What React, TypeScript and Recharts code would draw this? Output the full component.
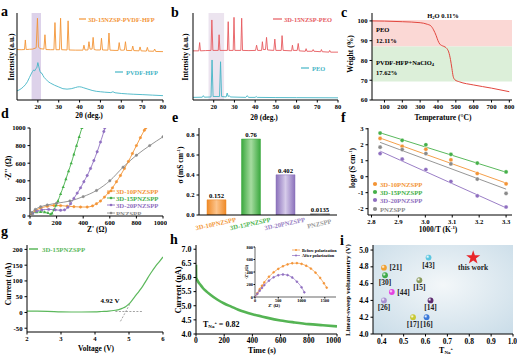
import React from 'react';
import {
  LineChart,
  Line,
  XAxis,
  YAxis,
  ReferenceArea,
  ReferenceLine,
  BarChart,
  Bar,
  Cell,
  LabelList,
  ScatterChart,
  Scatter,
  Symbols,
} from 'recharts';

const FONT = '"Liberation Serif", "Times New Roman", serif';

const ORANGE = '#f39436';
const CYAN = '#45b5c6';
const RED = '#e65a5f';
const GREEN = '#45b049';
const PURPLE = '#8f6fc0';
const GRAY = '#8a8a8a';

type Pt = [number, number];
const toRows = (pts: Pt[]) => pts.map(([x, y]) => ({ x, y }));

// ---------- a: XRD, PVDF-HFP ----------
const xrdTicks = [10, 20, 30, 40, 50, 60, 70, 80];
const xrdNzspPvdf: Pt[] = [
  [10, 58], [12, 57.8], [13.6, 58], [14, 69], [14.4, 58], [16, 58.3], [17.5, 58.5], [19.2, 60], [19.8, 94],
  [20.3, 61], [21, 59], [22.9, 58.5], [23.4, 75], [23.9, 58], [26, 57.8], [27.7, 57.8], [28.2, 89], [28.7, 57.8],
  [30.4, 57.8], [30.9, 94], [31.4, 57.8], [34, 57.5], [34.5, 91], [35, 57.5], [38, 57.3], [41.6, 57.3], [42.1, 63],
  [42.6, 57.5], [44, 57.5], [44.5, 67], [45, 58.5], [46, 58.5], [46.5, 72], [47, 58], [48, 57.5], [50, 57.5],
  [50.5, 71], [51, 57.5], [53.6, 57.3], [54.1, 77], [54.6, 57.3], [57, 57], [58.5, 57], [59, 66], [59.5, 57.5],
  [60.5, 57.2], [61.5, 57.5], [62, 67], [62.5, 57], [65, 56.8], [65.5, 62], [66, 56.8], [68.5, 56.5], [69, 61],
  [69.5, 56.5], [72, 56.2], [72.5, 60.5], [73, 56.2], [75.5, 56], [76, 58.6], [76.5, 55.8], [80, 55.6],
];
const xrdPvdf: Pt[] = [
  [10, 10.5], [11, 11.5], [12, 13], [13, 15], [14, 17.5], [15, 21], [16, 26], [17, 31], [17.5, 33], [18, 34.5],
  [18.5, 33.5], [19, 36], [19.5, 37], [20, 43], [20.5, 38], [21, 33], [21.5, 31], [22, 30.5], [22.5, 28], [23, 26],
  [24, 23.5], [25, 21], [26, 19.5], [28, 17], [30, 15], [32, 13], [34, 12.5], [36, 13], [38, 14.3], [39, 15],
  [40, 15.2], [41, 14.8], [42, 14], [44, 12.5], [46, 11], [48, 10], [50, 9.5], [52, 9], [55, 8.5], [56, 9.5],
  [57, 8.3], [60, 7.5], [63, 7], [66, 6.6], [70, 6.2], [75, 5.6], [80, 5],
];

// ---------- b: XRD, PEO ----------
const xrdNzspPeo: Pt[] = [
  [10, 56.5], [12.8, 56.5], [13.2, 66], [13.6, 56.5], [16, 56.8], [18.7, 57], [19.1, 92], [19.6, 57], [22.2, 57],
  [22.6, 75], [23, 57], [26.6, 57], [27, 90], [27.4, 57], [29.4, 57], [29.8, 95], [30.2, 57], [33.1, 57], [33.5, 94],
  [33.9, 57], [37, 56.8], [40.2, 57], [40.7, 63], [41.2, 57], [43.1, 57], [43.5, 67], [43.9, 58], [45, 58],
  [45.5, 72], [46, 57.5], [49, 57], [49.5, 70], [50, 57], [52.6, 57], [53, 74], [53.5, 57], [57.6, 56.5], [58, 63],
  [58.4, 57], [60.3, 57], [60.8, 65], [61.3, 56.5], [64.2, 56], [64.6, 59], [65, 56], [67.6, 56], [68, 58],
  [68.4, 56], [71.6, 55.5], [72, 58], [72.4, 55.5], [75.6, 55], [76, 57], [76.4, 55], [80, 55],
];
const xrdPeo: Pt[] = [
  [10, 3], [14.5, 3.2], [15, 5], [15.5, 3.2], [18.7, 3.5], [19.2, 46], [19.7, 4], [22.8, 4], [23.3, 44], [23.8, 4],
  [26, 3.5], [26.5, 8], [27, 4], [27.5, 5], [28, 3.5], [35.5, 3], [36.2, 5], [36.8, 3], [40, 3], [40.5, 4], [41, 3],
  [50, 2.8], [60, 2.7], [80, 2.5],
];

// ---------- c: TGA ----------
const tgaTemp = [30, 100, 200, 300, 340, 360, 375, 390, 400, 410, 425, 440, 450, 460, 470, 478, 485, 495, 520, 600, 700, 800];
const tgaWeight = [100, 99.9, 99.6, 99.1, 98.3, 97.5, 95.5, 92.5, 90, 88.3, 87.4, 86.8, 86, 84.3, 80.5, 76, 72, 70.2, 69.2, 67.6, 66, 64.2];
const tgaBands = { peoTop: 100.5, split: 87, pvdfBottom: 69.3 };

// ---------- d: Nyquist ----------
const nyqNames = ['3D-10PNZSPP', '3D-15PNZSPP', '3D-20PNZSPP', 'PNZSPP'];
const nyqColors = [ORANGE, GREEN, PURPLE, GRAY];
const nyq10: Pt[] = [
  [0, 0], [15, 30], [40, 60], [80, 90], [130, 110], [180, 120], [230, 118], [280, 112], [330, 106], [380, 102],
  [430, 102], [470, 115], [500, 140], [530, 170], [560, 215], [590, 265], [620, 320], [650, 390], [680, 460],
  [710, 540], [740, 620], [770, 710], [800, 800], [830, 890], [860, 975], [870, 1000],
];
const nyq15: Pt[] = [
  [0, 0], [20, 30], [50, 45], [80, 48], [110, 45], [135, 35], [155, 18], [165, 30], [180, 70], [195, 120],
  [210, 170], [230, 250], [250, 330], [270, 420], [290, 510], [310, 600], [330, 700], [350, 800], [370, 900], [390, 1000],
];
const nyq20: Pt[] = [
  [0, 0], [20, 30], [50, 55], [90, 70], [140, 75], [190, 70], [230, 65], [260, 70], [285, 100], [305, 140],
  [330, 200], [355, 260], [380, 320], [405, 390], [430, 460], [455, 540], [480, 630], [505, 730], [530, 840],
  [555, 960], [562, 1000],
];
const nyqP: Pt[] = [
  [0, 0], [15, 40], [40, 75], [80, 105], [130, 125], [200, 145], [300, 170], [400, 220], [500, 290], [600, 400],
  [700, 555], [800, 690], [900, 800], [1000, 900],
];
const nyqTicks = [0, 200, 400, 600, 800, 1000];

// ---------- e: conductivity bars ----------
const eCats = ['3D-10PNZSPP', '3D-15PNZSPP', '3D-20PNZSPP', 'PNZSPP'];
const eSigma = [0.152, 0.76, 0.402, 0.0135];
const eColors = ['#f39a3d', '#4cb44f', '#9a82c4', '#9a9a9a'];
const eDark = ['#ef8a27', '#3aa83e', '#8b71bb', '#8f8f8f'];
const eLight = ['#fcc48c', '#a6dca0', '#d6cbea', '#d0d0d0'];

// ---------- f: Arrhenius ----------
const invT = [2.832, 2.914, 3.002, 3.095, 3.193, 3.3];
const logS10 = [2.4, 1.9, 1.72, 1.05, 0.2, -0.45];
const logS15 = [2.73, 2.28, 2.0, 1.4, 0.85, 0.3];
const logS20 = [1.45, 1.1, 0.45, -0.3, -1.2, -1.9];
const logSP = [1.85, 1.7, 1.45, 0.8, -0.15, -1.05];
const fit10: Pt[] = [[2.832, 2.42], [3.3, -0.4]];
const fit15: Pt[] = [[2.832, 2.75], [3.3, 0.28]];
const fit20: Pt[] = [[2.832, 1.6], [3.3, -1.95]];
const fitP: Pt[] = [[2.832, 2.15], [3.3, -0.78]];

// ---------- g: LSV ----------
const lsvV = [2, 2.3, 2.6, 3, 3.3, 3.6, 4, 4.2, 4.4, 4.6, 4.7, 4.8, 4.9, 5.0, 5.1, 5.2, 5.3, 5.4, 5.5, 5.6, 5.7, 5.8, 5.9, 6.0];
const lsvI = [4, 4, 3.5, 2, 1.5, 1.5, 2, 3, 4, 7, 9, 13, 18, 27, 40, 54, 68, 83, 100, 118, 134, 149, 162, 176];
const lsvBase = [{ x: 4.6, y: 3 }, { x: 5.4, y: 3 }];
const lsvTangent = [{ x: 4.75, y: -28 }, { x: 5.02, y: 26 }];

// ---------- h: chronoamperometry + inset EIS ----------
const ctTime = [0, 1, 5, 15, 30, 50, 75, 100, 150, 200, 250, 300, 400, 500, 600, 700, 800, 900, 1000];
const ctCurrent = [6.45, 6.0, 5.95, 5.85, 5.75, 5.62, 5.5, 5.4, 5.22, 5.08, 4.97, 4.86, 4.7, 4.58, 4.48, 4.41, 4.35, 4.31, 4.27];
const eisBefore: Pt[] = [
  [0, 0], [50, 60], [100, 125], [150, 180], [200, 235], [300, 325], [400, 395], [500, 450], [600, 492], [700, 522],
  [800, 540], [900, 542], [1000, 530], [1100, 500], [1200, 455], [1300, 390], [1400, 305], [1480, 220], [1540, 150],
];
const eisAfter: Pt[] = [
  [0, 0], [50, 50], [100, 100], [150, 145], [200, 190], [300, 262], [400, 315], [500, 348], [600, 360], [700, 350],
  [800, 312], [900, 245], [1000, 155], [1060, 75],
];

// ---------- i: comparison ----------
const refNames = ['[21]', '[30]', '[44]', '[26]', '[43]', '[15]', '[14]', '[17]', '[16]'];
const refTNa = [0.41, 0.415, 0.446, 0.41, 0.614, 0.572, 0.623, 0.543, 0.605];
const refLSV = [4.79, 4.7, 4.5, 4.4, 4.91, 4.64, 4.4, 4.2, 4.2];
const refColors = ['#f0a030', '#3faa4a', '#e443e0', '#a890d2', '#5cc6e0', '#8a9a5b', '#5c2a6e', '#c8c833', '#3a78d8'];
const refLabelSide = ['right', 'below', 'right', 'below', 'below', 'below', 'below', 'below', 'below'];
const thisWork = [{ x: 0.818, y: 4.91, name: 'this work' }];

// ---------- shared helpers ----------
type Rect = { x0: number; y0: number; x1: number; y1: number };
type Mg = { t: number; r: number; b: number; l: number };

function Panel({ r, m, children }: { r: Rect; m: Mg; children: (w: number, h: number, margin: any) => React.ReactNode }) {
  const w = r.x1 - r.x0 + m.l + m.r;
  const h = r.y1 - r.y0 + m.t + m.b;
  return (
    <div style={{ position: 'absolute', left: r.x0 - m.l, top: r.y0 - m.t, width: w, height: h }}>
      {children(w, h, { top: m.t, right: m.r, bottom: 0, left: 0 })}
    </div>
  );
}

const AX = { stroke: '#000', strokeWidth: 1 };
const tk = (s = 6.7) => ({ fontSize: s, fontFamily: FONT, fontWeight: 700, fill: '#000' });
const f1 = (v: number) => v.toFixed(1);

const frame = () => [
  <XAxis key="ft" xAxisId="top" orientation="top" height={0} type="number" domain={[0, 1]} tick={false} tickLine={false} axisLine={AX} />,
  <YAxis key="fr" yAxisId="right" orientation="right" width={0} type="number" domain={[0, 1]} tick={false} tickLine={false} axisLine={AX} />,
];

function Tx({ x, y, s = 7.5, c = '#000', a = 'middle', r = 0, children }: any) {
  return (
    <text
      x={x}
      y={y}
      fontSize={s}
      fill={c}
      textAnchor={a}
      dominantBaseline="central"
      fontWeight={700}
      fontFamily={FONT}
      transform={r ? `rotate(${r} ${x} ${y})` : undefined}
    >
      {children}
    </text>
  );
}

// ---------- panels ----------
function PanelA() {
  return (
    <Panel r={{ x0: 17, y0: 13, x1: 163, y1: 100 }} m={{ t: 4, r: 4, b: 14, l: 2 }}>
      {(w, h, margin) => (
        <LineChart width={w} height={h} margin={margin}>
          <ReferenceArea x1={17} x2={21.5} y1={0} y2={100} fill="#ddd2ea" fillOpacity={1} stroke="none" />
          <XAxis type="number" dataKey="x" domain={[10, 80]} ticks={xrdTicks} allowDataOverflow height={14} tick={tk(6.5)} tickSize={2.5} tickLine={AX} axisLine={AX} />
          <YAxis type="number" domain={[0, 100]} allowDataOverflow width={2} tick={false} tickLine={false} axisLine={AX} />
          {frame()}
          <Line data={toRows(xrdNzspPvdf)} dataKey="y" type="linear" stroke={ORANGE} strokeWidth={0.9} dot={false} isAnimationActive={false} />
          <Line data={toRows(xrdPvdf)} dataKey="y" type="linear" stroke={CYAN} strokeWidth={0.9} dot={false} isAnimationActive={false} />
        </LineChart>
      )}
    </Panel>
  );
}

function PanelB() {
  return (
    <Panel r={{ x0: 193, y0: 13, x1: 338, y1: 100 }} m={{ t: 4, r: 4, b: 14, l: 2 }}>
      {(w, h, margin) => (
        <LineChart width={w} height={h} margin={margin}>
          <ReferenceArea x1={17.5} x2={25} y1={0} y2={100} fill="#ece4ef" fillOpacity={1} stroke="none" />
          <XAxis type="number" dataKey="x" domain={[10, 80]} ticks={xrdTicks} allowDataOverflow height={14} tick={tk(6.5)} tickSize={2.5} tickLine={AX} axisLine={AX} />
          <YAxis type="number" domain={[0, 100]} allowDataOverflow width={2} tick={false} tickLine={false} axisLine={AX} />
          {frame()}
          <Line data={toRows(xrdNzspPeo)} dataKey="y" type="linear" stroke={RED} strokeWidth={0.9} dot={false} isAnimationActive={false} />
          <Line data={toRows(xrdPeo)} dataKey="y" type="linear" stroke={CYAN} strokeWidth={0.9} dot={false} isAnimationActive={false} />
        </LineChart>
      )}
    </Panel>
  );
}

function PanelC() {
  const rows = tgaTemp.map((x, i) => ({ x, y: tgaWeight[i] }));
  return (
    <Panel r={{ x0: 372, y0: 13, x1: 512, y1: 100 }} m={{ t: 4, r: 4, b: 14, l: 22 }}>
      {(w, h, margin) => (
        <LineChart width={w} height={h} margin={margin}>
          <ReferenceArea y1={tgaBands.split} y2={tgaBands.peoTop} fill="#fbd8d5" fillOpacity={1} stroke="none" />
          <ReferenceArea y1={tgaBands.pvdfBottom} y2={tgaBands.split} fill="#dcefd9" fillOpacity={1} stroke="none" />
          <XAxis type="number" dataKey="x" domain={[30, 815]} ticks={[100, 200, 300, 400, 500, 600, 700, 800]} allowDataOverflow height={14} tick={tk()} tickSize={2.5} tickLine={AX} axisLine={AX} />
          <YAxis type="number" domain={[60, 104]} ticks={[60, 70, 80, 90, 100]} allowDataOverflow width={22} tick={tk()} tickSize={2.5} tickLine={AX} axisLine={AX} />
          {frame()}
          <Line data={rows} dataKey="y" type="monotone" stroke="#e2473f" strokeWidth={1} dot={false} isAnimationActive={false} />
        </LineChart>
      )}
    </Panel>
  );
}

const triDot = (color: string) => (p: any) => (
  <path
    key={`t${p.index}`}
    d={`M${p.cx},${p.cy - 1.8}L${p.cx + 1.6},${p.cy + 1.1}L${p.cx - 1.6},${p.cy + 1.1}Z`}
    fill={color}
  />
);

function PanelD() {
  const series = [nyq10, nyq15, nyq20, nyqP];
  return (
    <Panel r={{ x0: 30, y0: 128, x1: 163, y1: 216 }} m={{ t: 4, r: 4, b: 14, l: 24 }}>
      {(w, h, margin) => (
        <LineChart width={w} height={h} margin={margin}>
          <XAxis type="number" dataKey="x" domain={[0, 1000]} ticks={nyqTicks} allowDataOverflow height={14} tick={tk()} tickSize={2.5} tickLine={AX} axisLine={AX} />
          <YAxis type="number" domain={[0, 1000]} ticks={nyqTicks} allowDataOverflow width={24} tick={tk()} tickSize={2.5} tickLine={AX} axisLine={AX} />
          {frame()}
          {series.map((s, i) => (
            <Line
              key={nyqNames[i]}
              data={toRows(s)}
              dataKey="y"
              type="monotone"
              stroke={nyqColors[i]}
              strokeWidth={0.9}
              dot={i === 1 ? triDot(nyqColors[i]) : { r: 1.2, fill: nyqColors[i], stroke: nyqColors[i], strokeWidth: 0.5 }}
              isAnimationActive={false}
            />
          ))}
        </LineChart>
      )}
    </Panel>
  );
}

const eTick = (p: any) => {
  const i = eCats.indexOf(p.payload.value);
  const y = p.y + 7;
  return (
    <text x={p.x} y={y} textAnchor="middle" fill={eColors[i]} fontSize={6.5} fontWeight={700} fontFamily={FONT} transform={`rotate(-12 ${p.x} ${y})`}>
      {p.payload.value}
    </text>
  );
};

function PanelE() {
  const rows = eCats.map((name, i) => ({ name, v: eSigma[i] }));
  return (
    <Panel r={{ x0: 199, y0: 128, x1: 337, y1: 215 }} m={{ t: 4, r: 4, b: 22, l: 22 }}>
      {(w, h, margin) => (
        <BarChart width={w} height={h} margin={margin} data={rows}>
          <defs>
            {eCats.map((c, i) => (
              <linearGradient key={c} id={`eg${i}`} x1="0" y1="0" x2="1" y2="0">
                <stop offset="0%" stopColor={eDark[i]} />
                <stop offset="50%" stopColor={eLight[i]} />
                <stop offset="100%" stopColor={eDark[i]} />
              </linearGradient>
            ))}
          </defs>
          <XAxis dataKey="name" height={22} interval={0} tick={eTick} tickSize={2} tickMargin={2} tickLine={false} axisLine={AX} />
          <YAxis type="number" domain={[0, 0.87]} ticks={[0, 0.2, 0.4, 0.6, 0.8]} tickFormatter={f1} allowDataOverflow width={22} tick={tk()} tickSize={2.5} tickLine={AX} axisLine={AX} />
          {frame()}
          <Bar dataKey="v" barSize={19} isAnimationActive={false}>
            {rows.map((r, i) => (
              <Cell key={r.name} fill={`url(#eg${i})`} stroke={eDark[i]} strokeWidth={0.5} />
            ))}
            <LabelList dataKey="v" position="top" offset={2} fill="#000" fontSize={6.7} fontWeight={700} fontFamily={FONT} />
          </Bar>
        </BarChart>
      )}
    </Panel>
  );
}

function PanelF() {
  const pts = [logS10, logS15, logS20, logSP];
  const fits = [fit10, fit15, fit20, fitP];
  return (
    <Panel r={{ x0: 368, y0: 128, x1: 512, y1: 215 }} m={{ t: 4, r: 4, b: 14, l: 20 }}>
      {(w, h, margin) => (
        <LineChart width={w} height={h} margin={margin}>
          <XAxis type="number" dataKey="x" domain={[2.787, 3.322]} ticks={[2.8, 2.9, 3.0, 3.1, 3.2, 3.3]} tickFormatter={f1} allowDataOverflow height={14} tick={tk()} tickSize={2.5} tickLine={AX} axisLine={AX} />
          <YAxis type="number" domain={[-2.4, 3.05]} ticks={[-2, -1, 0, 1, 2, 3]} allowDataOverflow width={20} tick={tk()} tickSize={2.5} tickLine={AX} axisLine={AX} />
          {frame()}
          {fits.map((s, i) => (
            <Line key={`fit${i}`} data={toRows(s)} dataKey="y" type="linear" stroke={nyqColors[i]} strokeWidth={0.9} dot={false} isAnimationActive={false} />
          ))}
          {pts.map((s, i) => (
            <Line
              key={`pt${i}`}
              data={invT.map((x, j) => ({ x, y: s[j] }))}
              dataKey="y"
              stroke="none"
              dot={{ r: 2.1, fill: nyqColors[i], stroke: '#fff', strokeWidth: 0.4 }}
              isAnimationActive={false}
            />
          ))}
        </LineChart>
      )}
    </Panel>
  );
}

function PanelG() {
  const rows = lsvV.map((x, i) => ({ x, y: lsvI[i] }));
  return (
    <Panel r={{ x0: 27, y0: 245, x1: 163, y1: 332 }} m={{ t: 4, r: 4, b: 14, l: 22 }}>
      {(w, h, margin) => (
        <LineChart width={w} height={h} margin={margin}>
          <XAxis type="number" dataKey="x" domain={[2, 6]} ticks={[2, 3, 4, 5, 6]} allowDataOverflow height={14} tick={tk()} tickSize={2.5} tickLine={AX} axisLine={AX} />
          <YAxis type="number" domain={[-62, 214]} ticks={[-50, 0, 50, 100, 150, 200]} allowDataOverflow width={22} tick={tk()} tickSize={2.5} tickLine={AX} axisLine={AX} />
          {frame()}
          <ReferenceLine segment={lsvBase} stroke="#8c8c8c" strokeWidth={0.8} strokeDasharray="2 1.5" />
          <ReferenceLine segment={lsvTangent} stroke="#8c8c8c" strokeWidth={0.8} strokeDasharray="2 1.5" />
          <Line data={rows} dataKey="y" type="monotone" stroke="#5cb85c" strokeWidth={1.2} dot={false} isAnimationActive={false} />
        </LineChart>
      )}
    </Panel>
  );
}

function PanelH() {
  const rows = ctTime.map((x, i) => ({ x, y: ctCurrent[i] }));
  return (
    <Panel r={{ x0: 196, y0: 245, x1: 337, y1: 334 }} m={{ t: 4, r: 4, b: 14, l: 22 }}>
      {(w, h, margin) => (
        <LineChart width={w} height={h} margin={margin}>
          <XAxis type="number" dataKey="x" domain={[0, 1000]} ticks={[0, 200, 400, 600, 800, 1000]} allowDataOverflow height={14} tick={tk(7.6)} tickSize={2.5} tickMargin={1} tickLine={AX} axisLine={AX} />
          <YAxis type="number" domain={[4, 7.15]} ticks={[4, 4.5, 5, 5.5, 6, 6.5, 7]} tickFormatter={f1} allowDataOverflow width={22} tick={tk(8)} tickSize={2.5} tickLine={AX} axisLine={AX} />
          {frame()}
          <Line data={rows} dataKey="y" type="monotone" stroke="#55b454" strokeWidth={2.6} dot={false} isAnimationActive={false} />
        </LineChart>
      )}
    </Panel>
  );
}

function PanelHInset() {
  const thin = { stroke: '#000', strokeWidth: 0.6 };
  return (
    <Panel r={{ x0: 255, y0: 247, x1: 336, y1: 297 }} m={{ t: 2, r: 2, b: 8, l: 12 }}>
      {(w, h, margin) => (
        <LineChart width={w} height={h} margin={margin}>
          <XAxis type="number" dataKey="x" domain={[0, 1740]} ticks={[0, 500, 1000, 1500]} allowDataOverflow height={8} tick={tk(4.3)} tickSize={1.5} tickMargin={0.5} tickLine={AX} axisLine={thin} />
          <YAxis type="number" domain={[0, 800]} ticks={[0, 200, 400, 600, 800]} allowDataOverflow width={12} tick={tk(4.3)} tickSize={1.5} tickMargin={0.5} tickLine={AX} axisLine={thin} />
          <XAxis xAxisId="top" orientation="top" height={0} type="number" domain={[0, 1]} tick={false} tickLine={false} axisLine={thin} />
          <YAxis yAxisId="right" orientation="right" width={0} type="number" domain={[0, 1]} tick={false} tickLine={false} axisLine={thin} />
          <Line data={toRows(eisBefore)} dataKey="y" type="monotone" stroke={ORANGE} strokeWidth={0.7} dot={{ r: 0.9, fill: ORANGE, stroke: ORANGE }} isAnimationActive={false} />
          <Line data={toRows(eisAfter)} dataKey="y" type="monotone" stroke={PURPLE} strokeWidth={0.7} dot={{ r: 0.9, fill: PURPLE, stroke: PURPLE }} isAnimationActive={false} />
        </LineChart>
      )}
    </Panel>
  );
}

const refShape = (p: any) => {
  const i = refNames.indexOf(p.payload.name);
  const right = refLabelSide[i] === 'right';
  return (
    <g>
      <circle cx={p.cx} cy={p.cy} r={2.9} fill={`url(#sph${i})`} />
      <text
        x={right ? p.cx + 5.5 : p.cx}
        y={right ? p.cy + 2.6 : p.cy + 10}
        textAnchor={right ? 'start' : 'middle'}
        fontSize={7.5}
        fontWeight={700}
        fontFamily={FONT}
        fill="#222"
      >
        {p.payload.name}
      </text>
    </g>
  );
};

const starShape = (p: any) => (
  <g>
    <Symbols type="star" size={62} cx={p.cx} cy={p.cy} fill="#e8262b" />
    <text x={p.cx} y={p.cy + 12.5} textAnchor="middle" fontSize={7.5} fontWeight={700} fontFamily={FONT} fill="#222">
      {p.payload.name}
    </text>
  </g>
);

function PanelI() {
  const rows = refNames.map((name, i) => ({ name, x: refTNa[i], y: refLSV[i] }));
  return (
    <Panel r={{ x0: 373, y0: 245, x1: 513, y1: 334 }} m={{ t: 4, r: 4, b: 14, l: 20 }}>
      {(w, h, margin) => (
        <ScatterChart width={w} height={h} margin={margin}>
          <defs>
            <radialGradient id="iBg" cx="50%" cy="45%" r="75%">
              <stop offset="0%" stopColor="#f3f7f9" />
              <stop offset="100%" stopColor="#c9dce8" />
            </radialGradient>
            {refColors.map((c, i) => (
              <radialGradient key={c} id={`sph${i}`} cx="35%" cy="35%" r="70%">
                <stop offset="0%" stopColor="#ffffff" />
                <stop offset="45%" stopColor={c} />
                <stop offset="100%" stopColor={c} />
              </radialGradient>
            ))}
          </defs>
          <ReferenceArea x1={0.36} x2={1.0} y1={4.0} y2={5.06} fill="url(#iBg)" fillOpacity={1} stroke="none" />
          <XAxis type="number" dataKey="x" domain={[0.36, 1.0]} ticks={[0.4, 0.5, 0.6, 0.7, 0.8, 0.9, 1.0]} tickFormatter={f1} allowDataOverflow height={14} tick={tk(7.5)} tickSize={2.5} tickLine={AX} axisLine={AX} />
          <YAxis type="number" dataKey="y" domain={[4.0, 5.06]} ticks={[4.0, 4.2, 4.4, 4.6, 4.8, 5.0]} tickFormatter={f1} allowDataOverflow width={20} tick={tk(7.5)} tickSize={2.5} tickLine={AX} axisLine={AX} />
          {frame()}
          <Scatter data={rows} shape={refShape} isAnimationActive={false} />
          <Scatter data={thisWork} shape={starShape} isAnimationActive={false} />
        </ScatterChart>
      )}
    </Panel>
  );
}

function Overlay() {
  const letter = (t: string, x: number, y: number) => (
    <text x={x} y={y} fontSize={14} fontWeight={700} fontFamily={FONT} fill="#000">{t}</text>
  );
  const dLegY = [191, 198, 205, 213];
  const fLegY = [184, 192, 200, 209];
  return (
    <svg width={522} height={358} style={{ position: 'absolute', left: 0, top: 0, pointerEvents: 'none' }}>
      {letter('a', 1, 16)}
      {letter('b', 171, 17)}
      {letter('c', 341, 17)}
      {letter('d', 1, 118)}
      {letter('e', 172, 122)}
      {letter('f', 341, 122)}
      {letter('g', 1, 236)}
      {letter('h', 170, 244)}
      {letter('i', 340, 245)}

      {/* a */}
      <Tx x={11} y={57} r={-90}>Intensity (a.u.)</Tx>
      <Tx x={89} y={115}>2θ (deg.)</Tx>
      <line x1={79} y1={19} x2={86} y2={19} stroke={ORANGE} strokeWidth={1.2} />
      <Tx x={88} y={19} s={6.4} c={ORANGE} a="start">3D-15NZSP-PVDF-HFP</Tx>
      <line x1={115} y1={72} x2={123} y2={72} stroke={CYAN} strokeWidth={1.2} />
      <Tx x={126} y={72} s={6.4} c={CYAN} a="start">PVDF-HFP</Tx>

      {/* b */}
      <Tx x={185.5} y={57} r={-90}>Intensity (a.u.)</Tx>
      <Tx x={264} y={117}>2θ (deg.)</Tx>
      <line x1={273} y1={19} x2={282} y2={19} stroke={RED} strokeWidth={1.2} />
      <Tx x={284} y={19} s={6.4} c={RED} a="start">3D-15NZSP-PEO</Tx>
      <line x1={301} y1={68} x2={309} y2={68} stroke={CYAN} strokeWidth={1.2} />
      <Tx x={312} y={68} s={6.4} c={CYAN} a="start">PEO</Tx>

      {/* c */}
      <Tx x={350} y={54} r={-90}>Weight (%)</Tx>
      <Tx x={443} y={117}>Temperature (°C)</Tx>
      <Tx x={443} y={15} s={6.5}>
        H<tspan fontSize={4.6} dy={1.8}>2</tspan>
        <tspan dy={-1.8}>O  0.11%</tspan>
      </Tx>
      <Tx x={376} y={29} s={6.5} a="start">PEO</Tx>
      <Tx x={376} y={40} s={6.5} a="start">12.11%</Tx>
      <Tx x={376} y={62} s={6.5} a="start">
        PVDF-HFP+NaClO<tspan fontSize={4.6} dy={1.8}>4</tspan>
      </Tx>
      <Tx x={376} y={72} s={6.5} a="start">17.62%</Tx>

      {/* d */}
      <Tx x={8} y={168} r={-90}>-Z'' (Ω)</Tx>
      <Tx x={97} y={229}>Z' (Ω)</Tx>
      {nyqNames.map((n, i) => (
        <g key={n}>
          <line x1={107} y1={dLegY[i]} x2={115} y2={dLegY[i]} stroke={nyqColors[i]} strokeWidth={0.9} />
          <circle cx={111} cy={dLegY[i]} r={1.3} fill={nyqColors[i]} />
          <Tx x={116} y={dLegY[i]} s={6.7} c={nyqColors[i]} a="start">{n}</Tx>
        </g>
      ))}

      {/* e */}
      <Tx x={180} y={165} r={-90}>
        σ (mS cm<tspan fontSize={4.8} dy={-2.4}>-1</tspan>
        <tspan dy={2.4}>)</tspan>
      </Tx>

      {/* f */}
      <Tx x={352} y={168} r={-90}>
        logσ (S cm<tspan fontSize={4.8} dy={-2.4}>-1</tspan>
        <tspan dy={2.4}>)</tspan>
      </Tx>
      <Tx x={438} y={229}>
        1000/T (K<tspan fontSize={4.8} dy={-2.4}>-1</tspan>
        <tspan dy={2.4}>)</tspan>
      </Tx>
      {nyqNames.map((n, i) => (
        <g key={`f${n}`}>
          <circle cx={375} cy={fLegY[i]} r={2.1} fill={nyqColors[i]} />
          <Tx x={380} y={fLegY[i]} s={6.7} c={nyqColors[i]} a="start">{n}</Tx>
        </g>
      ))}

      {/* g */}
      <Tx x={8} y={284} r={-90}>Current (uA)</Tx>
      <Tx x={96} y={348}>Voltage (V)</Tx>
      <line x1={29} y1={249} x2={38} y2={249} stroke="#5cb85c" strokeWidth={1.5} />
      <Tx x={42} y={249} s={6.8} c="#5cb85c" a="start">3D-15PNZSPP</Tx>
      <Tx x={110} y={301} s={7}>4.92 V</Tx>

      {/* h */}
      <Tx x={178} y={290} r={-90} s={8.3}>Current (uA)</Tx>
      <Tx x={262} y={350} s={8}>Time (s)</Tx>
      <Tx x={203} y={324} s={8} a="start">
        T<tspan fontSize={5} dy={1.8}>Na</tspan>
        <tspan fontSize={4.2} dy={-4}>+</tspan>
        <tspan dy={2.2}> = 0.82</tspan>
      </Tx>
      <Tx x={246} y={272} r={-90} s={4.4}>-Z'' (Ω)</Tx>
      <Tx x={274} y={305} s={4.4}>Z' (Ω)</Tx>
      <line x1={292} y1={250} x2={300} y2={250} stroke={ORANGE} strokeWidth={0.7} />
      <circle cx={296} cy={250} r={1} fill={ORANGE} />
      <Tx x={302} y={250} s={4.2} a="start">Before polarization</Tx>
      <line x1={292} y1={255.5} x2={300} y2={255.5} stroke={PURPLE} strokeWidth={0.7} />
      <circle cx={296} cy={255.5} r={1} fill={PURPLE} />
      <Tx x={302} y={255.5} s={4.2} a="start">After polarization</Tx>

      {/* i */}
      <Tx x={348} y={290} r={-90} s={7}>Linear-sweep voltammetry (V)</Tx>
      <Tx x={446} y={350} s={8}>
        T<tspan fontSize={5} dy={1.8}>Na</tspan>
        <tspan fontSize={4.2} dy={-4}>+</tspan>
      </Tx>
    </svg>
  );
}

export default function App() {
  return (
    <div style={{ position: 'absolute', left: 0, top: 0, width: 522, height: 358, background: '#fff', overflow: 'hidden' }}>
      <PanelA />
      <PanelB />
      <PanelC />
      <PanelD />
      <PanelE />
      <PanelF />
      <PanelG />
      <PanelH />
      <PanelHInset />
      <PanelI />
      <Overlay />
    </div>
  );
}
